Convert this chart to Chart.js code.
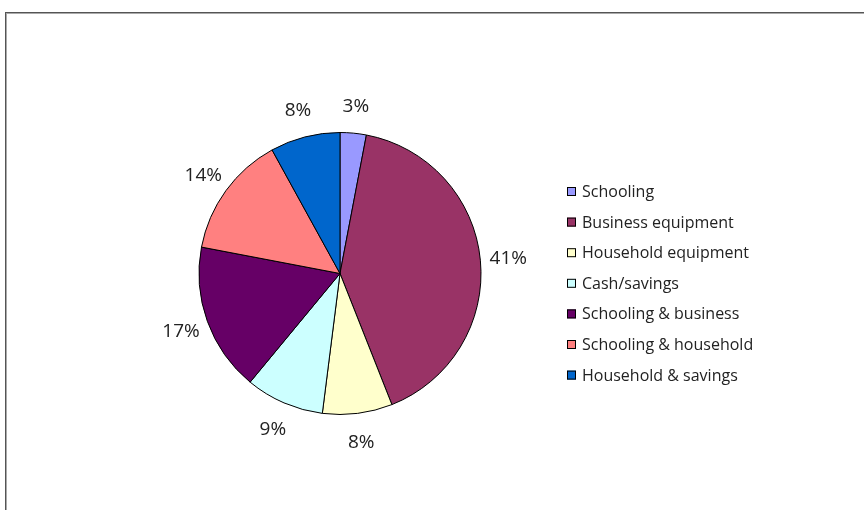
<!DOCTYPE html>
<html>
<head>
<meta charset="utf-8">
<script src="https://cdn.jsdelivr.net/npm/chart.js@4.4.0/dist/chart.umd.min.js"></script>
<style>
  html, body { margin: 0; padding: 0; background: #fff; overflow: hidden; }
  #wrap { position: relative; width: 864px; height: 510px; }
  #frame {
    position: absolute; left: 5px; top: 12px; width: 900px; height: 520px;
    border-left: 1px solid #555; border-top: 1px solid #555;
    box-shadow: inset 1px 1px 0 #aaa;
  }
  canvas { position: absolute; left: 0; top: 0; }
</style>
</head>
<body>
<div id="wrap">
  <div id="frame"></div>
  <canvas id="myChart" width="864" height="510"></canvas>
</div>
<script>
// datos del grafico
const categories = ['Schooling', 'Business equipment', 'Household equipment', 'Cash/savings',
                    'Schooling & business', 'Schooling & household', 'Household & savings'];
const shares = [3, 41, 8, 9, 17, 14, 8];
const sliceColors = ['#9999FF', '#993366', '#FFFFCC', '#CCFFFF', '#660066', '#FF8080', '#0066CC'];

const FONT = '"Open Sans", "Lato", sans-serif';
const TEXT_COLOR = '#222';

// etiquetas de porcentaje fuera de la tarta
const pctLabels = {
  id: 'pctLabels',
  afterDatasetsDraw(chart) {
    const ctx = chart.ctx;
    const meta = chart.getDatasetMeta(0);
    const data = chart.data.datasets[0].data;
    ctx.save();
    ctx.font = '19px ' + FONT;
    ctx.fillStyle = TEXT_COLOR;
    ctx.textAlign = 'center';
    ctx.textBaseline = 'middle';
    meta.data.forEach(function (arc, i) {
      const p = arc.getProps(['x', 'y', 'startAngle', 'endAngle', 'outerRadius'], true);
      const mid = (p.startAngle + p.endAngle) / 2;
      const r = p.outerRadius + 28;
      ctx.fillText(data[i] + '%', p.x + Math.cos(mid) * r, p.y + Math.sin(mid) * r + 1);
    });
    ctx.restore();
  }
};

// leyenda dibujada a mano
const sideLegend = {
  id: 'sideLegend',
  afterDraw(chart) {
    const ctx = chart.ctx;
    const x0 = 567;
    const y0 = 191.5;
    const step = 30.6;
    ctx.save();
    ctx.font = '16px ' + FONT;
    ctx.textAlign = 'left';
    ctx.textBaseline = 'middle';
    chart.data.labels.forEach(function (lab, i) {
      const y = y0 + i * step;
      ctx.fillStyle = chart.data.datasets[0].backgroundColor[i];
      ctx.fillRect(x0, y - 4.5, 9, 9);
      ctx.strokeStyle = '#000';
      ctx.lineWidth = 1;
      ctx.strokeRect(x0 + 0.5, y - 4, 8, 8);
      ctx.fillStyle = TEXT_COLOR;
      ctx.fillText(lab, x0 + 15, y + 1);
    });
    ctx.restore();
  }
};

const ctx = document.getElementById('myChart').getContext('2d');
new Chart(ctx, {
  type: 'pie',
  data: {
    labels: categories,
    datasets: [{
      data: shares,
      backgroundColor: sliceColors,
      borderColor: '#000',
      borderWidth: 1
    }]
  },
  options: {
    responsive: false,
    animation: false,
    radius: 141,
    layout: { padding: { left: 180, right: 364, top: 100, bottom: 63 } },
    plugins: {
      legend: { display: false },
      tooltip: { enabled: false }
    }
  },
  plugins: [pctLabels, sideLegend]
});
</script>
</body>
</html>
